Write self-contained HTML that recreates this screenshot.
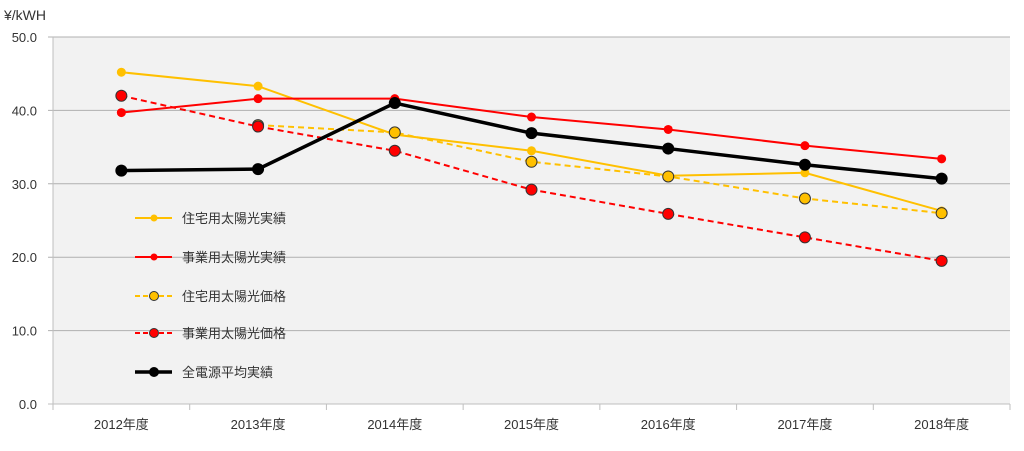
<!DOCTYPE html>
<html><head><meta charset="utf-8"><style>
body{margin:0;background:#fff;width:1024px;height:446px;overflow:hidden}
text{font-family:"Liberation Sans","Noto Sans CJK JP",sans-serif;fill:#333}
</style></head><body>
<svg id="chart" width="1024" height="446" xmlns="http://www.w3.org/2000/svg">
<text x="4" y="20" font-size="14">¥/kWH</text>
<rect x="53" y="37" width="957" height="367" fill="#f2f2f2"/>
<g id="grid"></g><g id="axes"></g><g id="series"></g><g id="legend"></g>
</svg>
<script>
const categories=["2012年度","2013年度","2014年度","2015年度","2016年度","2017年度","2018年度"];
const yTicks=[0,10,20,30,40,50];
const resActual=[45.2,43.3,36.7,34.5,31.1,31.5,26.3];
const bizActual=[39.7,41.6,41.6,39.1,37.4,35.2,33.4];
const resPrice=[null,38.0,37.0,33.0,31.0,28.0,26.0];
const bizPrice=[42.0,37.8,34.5,29.2,25.9,22.7,19.5];
const allAvg=[31.8,32.0,41.0,36.9,34.8,32.6,30.7];
const seriesNames=["住宅用太陽光実績","事業用太陽光実績","住宅用太陽光価格","事業用太陽光価格","全電源平均実績"];
const NS="http://www.w3.org/2000/svg";
const L=53,R=1010,T=37,B=404;
const bw=(R-L)/categories.length;
const x=i=>L+bw*(i+0.5);
const y=v=>B-(v/50)*(B-T);
function mk(tag,at,parent){const e=document.createElementNS(NS,tag);for(const k in at)e.setAttribute(k,at[k]);parent.appendChild(e);return e;}
const grid=document.getElementById('grid'),axes=document.getElementById('axes'),ser=document.getElementById('series'),leg=document.getElementById('legend');
yTicks.forEach(t=>{
 const g=mk('line',{x1:L-5,x2:R,y1:y(t),y2:y(t),stroke:t===0?'#bfbfbf':'#b0b0b0','stroke-width':1},grid);
 
 
 const tx=mk('text',{x:L-16,y:y(t)+5,'font-size':13,'text-anchor':'end'},axes);
 tx.textContent=t.toFixed(1);
 
 
});
const ax=mk('line',{x1:L,x2:L,y1:T,y2:B,stroke:'#bfbfbf'},axes);


for(let i=0;i<=categories.length;i++){
 const tk=mk('line',{x1:L+bw*i,x2:L+bw*i,y1:B,y2:B+6,stroke:'#bfbfbf'},axes);
 
 
}
categories.forEach((c,i)=>{
 const t=mk('text',{x:x(i),y:B+25,'font-size':13,'text-anchor':'middle'},axes);
 t.textContent=c;
 
 
});
const defs=[
 {d:resActual,c:'#ffc000',w:2,dash:null,r:4.5,st:'none',name:'residential-actual'},
 {d:bizActual,c:'#ff0000',w:2,dash:null,r:4.5,st:'none',name:'business-actual'},
 {d:resPrice,c:'#ffc000',w:2,dash:'6,4',r:5.5,st:'#333',name:'residential-price'},
 {d:bizPrice,c:'#ff0000',w:2,dash:'6,4',r:5.5,st:'#333',name:'business-price'},
 {d:allAvg,c:'#000',w:3.5,dash:null,r:6,st:'none',name:'all-source-average'}
];
defs.forEach((s,si)=>{
 const g=mk('g',{},ser);
 
 
 const pts=s.d.map((v,i)=>v==null?null:[x(i),y(v)]).filter(p=>p);
 const p=mk('polyline',{points:pts.map(q=>q.join(',')).join(' '),fill:'none',stroke:s.c,'stroke-width':s.w},g);
 if(s.dash)p.setAttribute('stroke-dasharray',s.dash);
 
 
 s.d.forEach((v,i)=>{if(v==null)return;
  const c=mk('circle',{cx:x(i),cy:y(v),r:s.r,fill:s.c,stroke:s.st,'stroke-width':1},g);
  
  
 });
 const ly=[218,257,296,333,372][si];
 const lg=mk('g',{},leg);
 
 
 const ll=mk('line',{x1:135,x2:172,y1:ly,y2:ly,stroke:s.c,'stroke-width':s.w},lg);
 if(s.dash)ll.setAttribute('stroke-dasharray','5,3');
 mk('circle',{cx:154,cy:ly,r:s.r-1,fill:s.c,stroke:s.st,'stroke-width':1},lg);
 const lt=mk('text',{x:182,y:ly+5,'font-size':13},lg);
 lt.textContent=seriesNames[si];
});
</script>
</body></html>
